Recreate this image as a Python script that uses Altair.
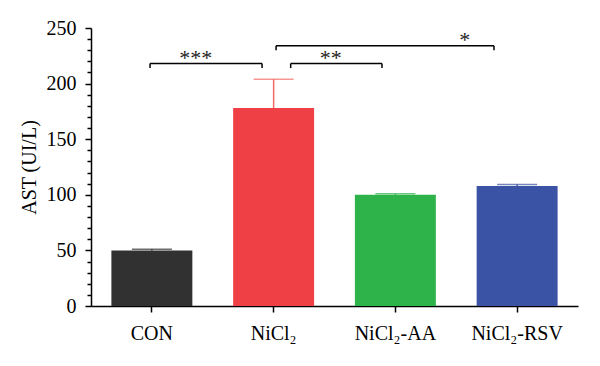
import altair as alt
import pandas as pd

categories = ["CON", "NiCl₂", "NiCl₂-AA", "NiCl₂-RSV"]
means = [50, 178, 100, 108]
errors = [1, 26, 1, 1.3]
bar_colors = ["#313131", "#ef4145", "#2db34a", "#3a53a4"]
err_colors = ["#313131", "#f26a66", "#2db34a", "#3a53a4"]

# significance brackets (x in category-index units, 0..4)
br_x1 = [0.485, 1.64, 1.52]
br_x2 = [1.405, 2.39, 3.31]
br_y = [218, 218, 234]
br_drop = 4
star_x = [0.86, 1.97, 3.07]
star_label = ["***", "**", "*"]

y_ticks = list(range(0, 251, 10))

FONT = "Liberation Serif"

df = pd.DataFrame({"cat": categories, "mean": means, "err": errors,
                   "top": [m + e for m, e in zip(means, errors)],
                   "bc": bar_colors, "ec": err_colors})

br = pd.DataFrame({"x1": br_x1, "x2": br_x2, "y": br_y,
                   "yd": [v - br_drop for v in br_y]})
ends = pd.DataFrame({"x": br_x1 + br_x2, "y": br_y + br_y,
                     "yd": [v - br_drop for v in br_y] * 2})
stars = pd.DataFrame({"x": star_x, "y": br_y, "t": star_label})

xenc = alt.X("cat:N", sort=categories, title=None,
             scale=alt.Scale(paddingInner=0.335, paddingOuter=0.1675),
             axis=alt.Axis(labelAngle=0, labelFont=FONT, labelFontSize=20,
                           labelColor="black", labelPadding=11, tickSize=6,
                           tickColor="black", tickWidth=1.5, domainColor="black",
                           domainWidth=1.5))
yscale = alt.Scale(domain=[0, 250], nice=False)
yenc = alt.Y("mean:Q", scale=yscale, title="AST (UI/L)",
             axis=alt.Axis(values=y_ticks,
                           labelExpr="datum.value % 50 === 0 ? datum.label : ''",
                           labelOverlap=False, labelFlush=False,
                           tickSize={"condition": {"test": "datum.value % 50 === 0", "value": 6}, "value": 4},
                           labelFont=FONT, labelFontSize=20, labelColor="black",
                           labelPadding=9, tickColor="black", tickWidth=1.5,
                           domainColor="black", domainWidth=1.5, grid=False,
                           titleFont=FONT, titleFontSize=20, titleFontWeight="normal",
                           titleColor="black", titlePadding=7))

base = alt.Chart(df)
bars = base.mark_bar().encode(x=xenc, y=yenc, color=alt.Color("bc:N", scale=None))
err_line = base.mark_rule(strokeWidth=1.5).encode(
    x=alt.X("cat:N", sort=categories, axis=None),
    y=alt.Y("mean:Q", scale=yscale, axis=None), y2="top:Q",
    color=alt.Color("ec:N", scale=None))
err_cap = base.mark_tick(size=40, thickness=1.5).encode(
    x=alt.X("cat:N", sort=categories, axis=None),
    y=alt.Y("top:Q", scale=yscale, axis=None),
    color=alt.Color("ec:N", scale=None))

bxs = alt.Scale(domain=[0, 4], nice=False, zero=False)
hline = alt.Chart(br).mark_rule(color="black", strokeWidth=1.5).encode(
    x=alt.X("x1:Q", scale=bxs, axis=None), x2="x2:Q",
    y=alt.Y("y:Q", scale=yscale, axis=None))
vline = alt.Chart(ends).mark_rule(color="black", strokeWidth=1.5).encode(
    x=alt.X("x:Q", scale=bxs, axis=None),
    y=alt.Y("y:Q", scale=yscale, axis=None), y2="yd:Q")
stext = alt.Chart(stars).mark_text(font=FONT, fontSize=22, color="#222222",
                                   baseline="alphabetic", dy=1).encode(
    x=alt.X("x:Q", scale=bxs, axis=None),
    y=alt.Y("y:Q", scale=yscale, axis=None), text="t:N")

bar_layer = alt.layer(bars, err_line, err_cap).resolve_axis(x="independent", y="independent")
ann_layer = alt.layer(hline, vline, stext).resolve_axis(x="independent", y="independent")

chart = alt.layer(bar_layer, ann_layer).resolve_scale(x="independent").resolve_axis(
    x="independent", y="independent").properties(
    width=487, height=278,
    autosize=alt.AutoSizeParams(type="none"),
    padding={"left": 83, "top": 20, "right": 5, "bottom": 40},
    background="white",
).configure_view(stroke=None)

chart.save("out.html", embed_options={"renderer": "svg", "actions": False})
